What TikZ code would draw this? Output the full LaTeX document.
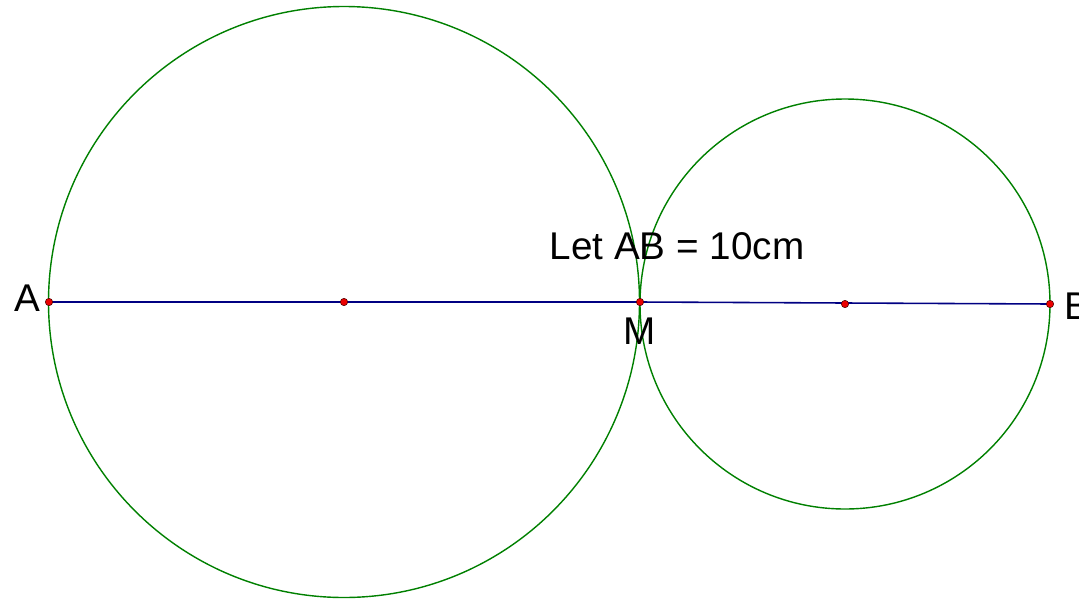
\documentclass[tikz,border=0pt]{standalone}
\usepackage{fontspec}
\setmainfont{Liberation Sans}
\usepackage{tikz}
\usetikzlibrary{positioning,calc}

\definecolor{segblue}{RGB}{0,0,130}
\definecolor{circgreen}{RGB}{0,128,0}
\definecolor{dotred}{RGB}{235,0,0}

\begin{document}
\begin{tikzpicture}[
  x=0.02cm, y=-0.02cm,
  font=\fontsize{22}{26}\selectfont,
  circ/.style={draw=circgreen, line width=0.8pt},
  seg/.style={draw=segblue, line width=0.9pt},
  pt/.style={circle, fill=dotred, draw=black!70!red, line width=0.3pt, inner sep=0pt, minimum size=4.2pt},
  lbl/.style={inner sep=0pt}
]
\useasboundingbox (0,0) rectangle (1079,599);

% points
\coordinate (A) at (49,302);
\coordinate (O1) at (344,302);
\coordinate (M) at (640,302);
\coordinate (O2) at (845,304);
\coordinate (B) at (1050,304);

% circles
\draw[circ] (O1) circle (295.5);
\draw[circ] (O2) circle (205);

% segment
\draw[seg] (A) -- (M) -- (B);

\foreach \p in {A,O1,M,O2,B}
  \node[pt] at (\p) {};

\node[lbl] (labA) at (27,298) {A};
\node[lbl] (labM) at (640,331) {M};
\node[lbl, anchor=west] (labB) at (1064,306) {B};
\node[lbl] (note) at (677,246) {Let AB = 10cm};

\end{tikzpicture}
\end{document}
